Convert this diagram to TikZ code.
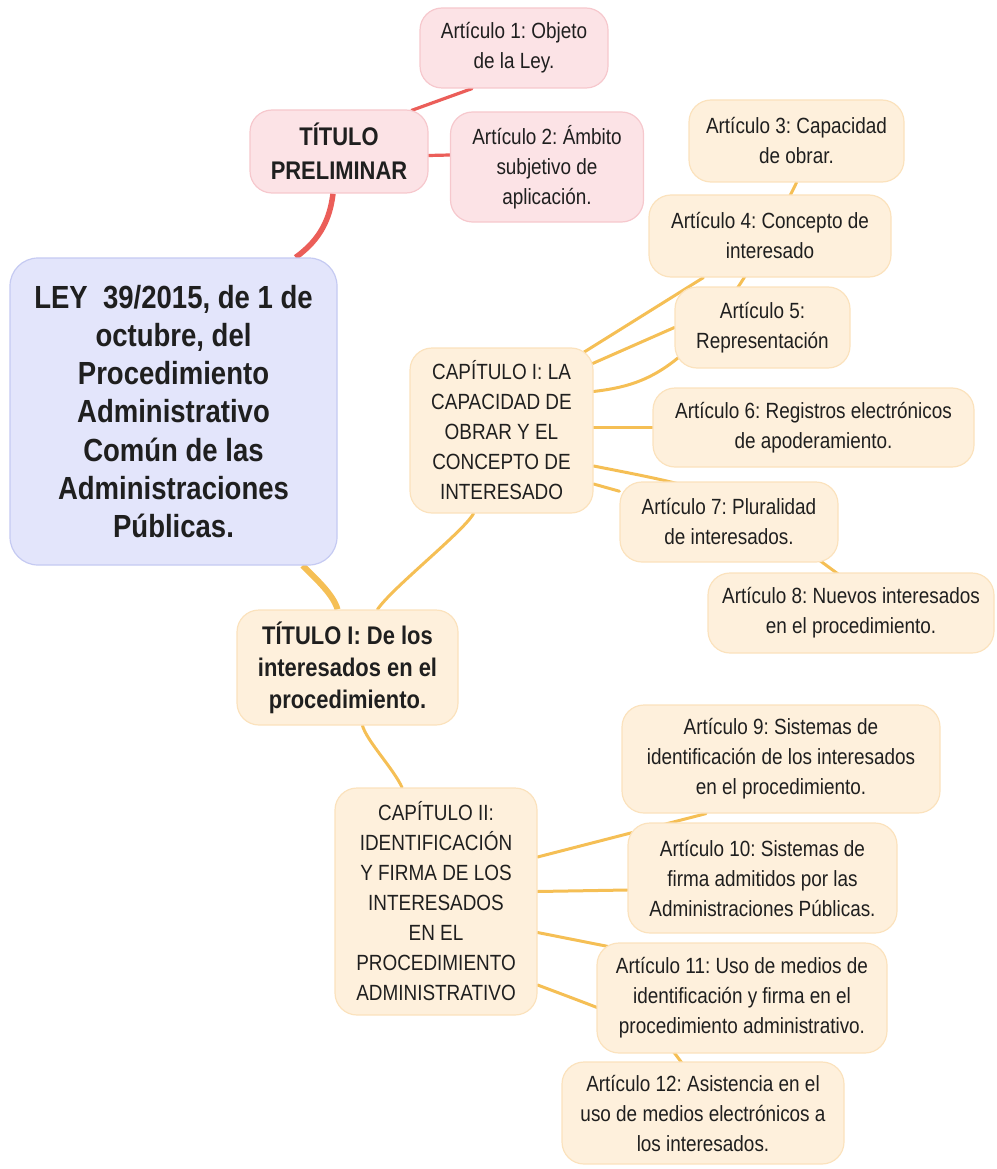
\documentclass[tikz,border=0pt]{standalone}
\usepackage{fontspec}
\setmainfont[FakeStretch=0.86]{Liberation Sans}
\usepackage{tikz}
\usetikzlibrary{calc, backgrounds}
\frenchspacing
\definecolor{rootfill}{HTML}{E3E5FB}
\definecolor{rootline}{HTML}{C5CAF2}
\definecolor{pinkfill}{HTML}{FCE3E6}
\definecolor{pinkline}{HTML}{F6C8CD}
\definecolor{creamfill}{HTML}{FEF0DC}
\definecolor{creamline}{HTML}{FBE2BD}
\definecolor{redbranch}{HTML}{EB5E59}
\definecolor{yellowbranch}{HTML}{F5BF55}
\definecolor{inkcol}{HTML}{1F1F1F}
\tikzstyle{box} = [rectangle, rounded corners=22pt, align=center, inner sep=0pt, line width=1.2pt, text=inkcol]
\tikzstyle{root} = [box, rounded corners=28pt, draw=rootline, fill=rootfill, font=\bfseries\fontsize{32}{38.2}\selectfont]
\tikzstyle{titlered} = [box, draw=pinkline, fill=pinkfill, font=\bfseries\fontsize{25.5}{34}\selectfont]
\tikzstyle{titlecream} = [box, draw=creamline, fill=creamfill, font=\bfseries\fontsize{25.5}{32}\selectfont]
\tikzstyle{artred} = [box, draw=pinkline, fill=pinkfill, font=\fontsize{22}{30}\selectfont]
\tikzstyle{artcream} = [box, draw=creamline, fill=creamfill, font=\fontsize{22}{30}\selectfont]
\tikzstyle{redlink} = [draw=redbranch, line width=3.2pt, line cap=round]
\tikzstyle{redthick} = [draw=redbranch, line width=5.5pt]
\tikzstyle{yellowlink} = [draw=yellowbranch, line width=3pt, line cap=round]
\tikzstyle{yellowthick} = [draw=yellowbranch, line width=6pt]

\begin{document}
\begin{tikzpicture}[x=1pt, y=-1pt]
  \useasboundingbox (0,0) rectangle (996,1169);
  \node (ley) [root, minimum width=327pt, minimum height=307pt] at (173.5,411.5) {LEY~~39/2015, de 1 de\\
    octubre, del\\
    Procedimiento\\
    Administrativo\\
    Común de las\\
    Administraciones\\
    Públicas.};
  % red branch
  \node (prelim) [titlered, minimum width=178pt, minimum height=83pt] at (339,151.5) {TÍTULO\\PRELIMINAR};
  \node (art1) [artred, minimum width=188pt, minimum height=80pt] at (514,48) {Artículo 1: Objeto\\de la Ley.};
  \node (art2) [artred, minimum width=193pt, minimum height=110pt] at (547,167) {Artículo 2: Ámbito\\subjetivo de\\aplicación.};
  % yellow branch
  \node (tituloI) [titlecream, minimum width=221pt, minimum height=115pt] at (347.5,667.5) {TÍTULO I: De los\\interesados en el\\procedimiento.};
  \node (capI) [artcream, minimum width=183pt, minimum height=165pt] at (501.5,430.5) {CAPÍTULO I: LA\\
    CAPACIDAD DE\\
    OBRAR Y EL\\
    CONCEPTO DE\\
    INTERESADO};
  \node (art3) [artcream, minimum width=215pt, minimum height=82pt] at (796.5,141) {Artículo 3: Capacidad\\de obrar.};
  \node (art4) [artcream, minimum width=242pt, minimum height=82pt] at (770,236) {Artículo 4: Concepto de\\interesado};
  \node (art5) [artcream, minimum width=175pt, minimum height=81pt] at (762.5,327.5) {Artículo 5:\\Representación};
  \node (art6) [artcream, minimum width=321pt, minimum height=79pt] at (813.5,427.5) {Artículo 6: Registros electrónicos\\de apoderamiento.};
  \node (art7) [artcream, minimum width=218pt, minimum height=80pt] at (729,522) {Artículo 7: Pluralidad\\de interesados.};
  \node (art8) [artcream, minimum width=286pt, minimum height=80pt] at (851,613) {Artículo 8: Nuevos interesados\\en el procedimiento.};
  \node (capII) [artcream, minimum width=202pt, minimum height=227pt] at (436,901.5) {CAPÍTULO II:\\
    IDENTIFICACIÓN\\
    Y FIRMA DE LOS\\
    INTERESADOS\\
    EN EL\\
    PROCEDIMIENTO\\
    ADMINISTRATIVO};
  \node (art9) [artcream, minimum width=318pt, minimum height=108pt] at (781,759) {Artículo 9: Sistemas de\\identificación de los interesados\\en el procedimiento.};
  \node (art10) [artcream, minimum width=269pt, minimum height=110pt] at (762.5,878) {Artículo 10: Sistemas de\\firma admitidos por las\\Administraciones Públicas.};
  \node (art11) [artcream, minimum width=290pt, minimum height=110pt] at (742,998) {Artículo 11: Uso de medios de\\identificación y firma en el\\procedimiento administrativo.};
  \node (art12) [artcream, minimum width=282pt, minimum height=102pt] at (703,1113) {Artículo 12: Asistencia en el\\uso de medios electrónicos a\\los interesados.};

  \begin{scope}[on background layer]
    \draw[redthick] ($(ley.north east)+(-42,0)$) .. controls +(25,-18) and +(-3,25) .. ($(prelim.south)+(-6,0)$);
    \draw[redlink] ($(prelim.north east)+(-17,1)$) -- ($(art1.south)+(-42,0)$);
    \draw[redlink] ($(prelim.east)+(0,4)$) -- ($(art2.west)+(0,-12)$);
    \draw[yellowthick] ($(ley.south east)+(-35,0)$) .. controls +(12,12) and +(-4,-15) .. ($(tituloI.north)+(-10,0)$);
    \draw[yellowlink] ($(tituloI.north)+(30,0)$) .. controls +(15,-22) and +(-10,18) .. ($(capI.south)+(-28,0)$);
    \draw[yellowlink] ($(tituloI.south)+(15,0)$) .. controls +(4,15) and +(-8,-18) .. ($(capII.north)+(-34,0)$);
    % capitulo I
    \draw[yellowlink] ($(capI.north east)+(-10,5)$) -- (art4);
    \draw[yellowlink] ($(capI.east)+(-1,-67)$) -- (art5.west);
    \draw[yellowlink] ($(capI.east)+(0,-39)$) .. controls +(57,-7) and +(-92,187) .. (art3.south);
    \draw[yellowlink] (art6.west -| capI.east) -- (art6.west);
    \draw[yellowlink] ($(capI.east)+(0,35.5)$) .. controls +(133,26) .. ($(art8.north)+(-11,3)$);
    \draw[yellowlink] ($(capI.east)+(0,53.5)$) -- (art7);
    % capitulo II
    \draw[yellowlink] ($(capII.east)+(0,-44.5)$) -- ($(art9.south)+(-75,0)$);
    \draw[yellowlink] ($(capII.east)+(0,-10)$) -- ($(art10.west)+(0,12)$);
    \draw[yellowlink] ($(capII.east)+(0,31)$) -- ($(art11)+(0,-25)$);
    \draw[yellowlink] ($(capII.east)+(0,83.5)$) .. controls +(120,45) .. ($(art12.north)+(-20,3)$);
  \end{scope}
\end{tikzpicture}
\end{document}
